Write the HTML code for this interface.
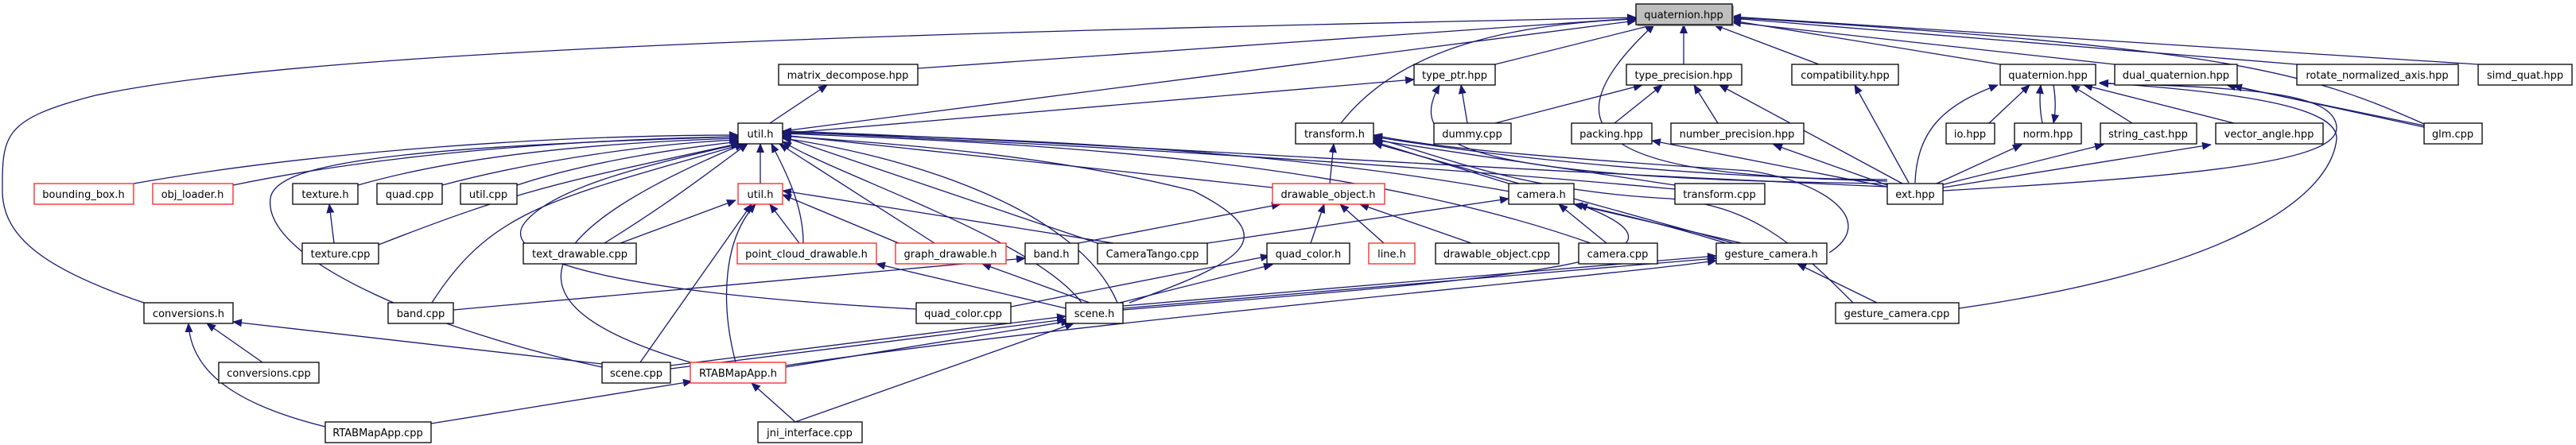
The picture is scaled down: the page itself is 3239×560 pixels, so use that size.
<!DOCTYPE html>
<html><head><meta charset="utf-8"><style>
html,body{margin:0;padding:0;background:#fff;width:3239px;height:560px;overflow:hidden}
svg{display:block}
text{font-family:"DejaVu Sans","Liberation Sans",sans-serif;font-size:13px;fill:#000;text-anchor:middle}
.e{fill:none;stroke:#191970;stroke-width:1.3}
.n{fill:#fff;stroke:#000;stroke-width:1.3}
.r{fill:#fff;stroke:#ff2020;stroke-width:1.3}
.s{fill:#999}
</style></head><body>
<svg width="3239" height="560" viewBox="0 0 3239 560" xmlns="http://www.w3.org/2000/svg">
<defs><marker id="a" markerUnits="userSpaceOnUse" markerWidth="12" markerHeight="10" refX="11" refY="5" orient="auto"><path d="M0,0 L12,5 L0,10 z" fill="#191970"/></marker></defs>
<g class="e" marker-end="url(#a)">
<path d="M181,381 C60,340 3,300 3,240 C3,170 3,150 120,120 C400,60 1200,40 2057,22"/>
<path d="M1154,86 L2057,23"/>
<path d="M984,165 L2057,26"/>
<path d="M1880,81 L2080,31"/>
<path d="M1686,155 C1760,60 1900,30 2057,24"/>
<path d="M2117,81 L2117,31"/>
<path d="M2373,226 C2020,225 1930,170 2080,31"/>
<path d="M2287,81 L2155,31"/>
<path d="M2515,81 L2178,26"/>
<path d="M2659,81 L2178,28"/>
<path d="M2888,81 L2178,23"/>
<path d="M3116,81 L2178,21"/>
<path d="M3048,156 C2900,90 2800,60 2178,22"/>
<path d="M984,168 L1778,100"/>
<path d="M968,155 L1040,107"/>
<path d="M1845,155 L1837,107"/>
<path d="M1880,155 L2065,107"/>
<path d="M2373,231 C1820,225 1770,180 1810,107"/>
<path d="M2030,155 L2090,107"/>
<path d="M2160,155 L2130,107"/>
<path d="M2392,231 L2162,107"/>
<path d="M2400,230 L2332,107"/>
<path d="M2408,230 C2410,160 2450,130 2512,107"/>
<path d="M2435,231 L2542,182"/>
<path d="M2440,233 L2645,182"/>
<path d="M2443,236 L2780,182"/>
<path d="M2443,240 C2800,220 2940,200 2938,160 C2935,120 2850,110 2640,105"/>
<path d="M2373,233 L2230,182"/>
<path d="M2373,235 L2077,177"/>
<path d="M2501,155 L2552,107"/>
<path d="M2568,155 C2565,140 2564,125 2566,107"/>
<path d="M2582,107 C2585,125 2585,140 2582,155"/>
<path d="M2681,155 L2604,107"/>
<path d="M2809,155 L2620,107"/>
<path d="M3048,158 L2800,107"/>
<path d="M3048,160 L2808,108"/>
<path d="M2463,388 C2800,340 2930,250 2938,175 C2940,140 2850,118 2640,104"/>
<path d="M168,231 C400,190 700,170 928,170"/>
<path d="M293,233 C500,190 750,175 928,172"/>
<path d="M450,233 C600,190 800,178 928,174"/>
<path d="M556,233 C680,200 830,180 928,176"/>
<path d="M650,233 C750,200 870,185 930,178"/>
<path d="M476,308 C650,240 700,230 932,180"/>
<path d="M757,462 C560,420 330,330 340,250 C345,205 500,185 928,172"/>
<path d="M543,381 C620,260 700,250 935,181"/>
<path d="M760,306 C850,250 900,210 940,181"/>
<path d="M956,231 L956,181"/>
<path d="M1010,306 C1010,260 990,220 970,181"/>
<path d="M1175,306 L980,181"/>
<path d="M868,456 C680,400 600,320 935,181"/>
<path d="M1360,381 C1300,300 1050,220 984,178"/>
<path d="M1152,389 C800,370 620,330 660,280 C700,230 850,200 930,181"/>
<path d="M1600,236 L984,170"/>
<path d="M1380,306 L984,172"/>
<path d="M2000,306 C1700,200 1300,180 984,168"/>
<path d="M2170,306 C1800,190 1300,175 984,167"/>
<path d="M2106,238 C1700,200 1200,175 984,166"/>
<path d="M2373,235 C1800,210 1300,175 984,165"/>
<path d="M1405,381 C1350,250 1100,190 984,174"/>
<path d="M780,306 L925,252"/>
<path d="M1005,306 L968,257"/>
<path d="M805,456 L945,257"/>
<path d="M925,456 C905,380 910,300 950,257"/>
<path d="M1130,306 L984,245"/>
<path d="M1400,306 L984,240"/>
<path d="M1672,231 L1677,181"/>
<path d="M1897,231 L1727,178"/>
<path d="M2106,233 L1727,176"/>
<path d="M2373,228 C2100,220 1900,200 1727,172"/>
<path d="M2180,306 L1727,180"/>
<path d="M2330,381 C2250,300 2200,260 2100,250 C1900,240 1800,190 1727,174"/>
<path d="M2300,318 C2360,280 2300,230 2200,215 C1900,195 1800,185 1727,170"/>
<path d="M1356,306 L1610,257"/>
<path d="M1648,306 L1665,257"/>
<path d="M1740,306 L1685,257"/>
<path d="M1850,306 L1710,257"/>
<path d="M1518,306 L1897,250"/>
<path d="M2020,306 L1960,257"/>
<path d="M2190,306 L1979,257"/>
<path d="M1412,390 C1900,350 2180,330 1985,257"/>
<path d="M1412,385 L2158,322"/>
<path d="M1412,388 L2158,325"/>
<path d="M2360,381 L2260,332"/>
<path d="M988,460 C1400,400 2000,350 2158,328"/>
<path d="M1340,388 L1102,332"/>
<path d="M1370,381 L1235,332"/>
<path d="M1408,381 L1600,333"/>
<path d="M1271,386 L1596,322"/>
<path d="M843,460 L1340,398"/>
<path d="M843,464 L1340,402"/>
<path d="M988,462 L1345,404"/>
<path d="M1000,531 L1350,407"/>
<path d="M1420,381 C1560,330 1620,300 1500,240 C1300,190 1100,180 984,171"/>
<path d="M330,456 L260,407"/>
<path d="M409,537 C300,510 240,470 237,407"/>
<path d="M757,458 L293,405"/>
<path d="M542,533 L870,480"/>
<path d="M1000,531 L945,482"/>
<path d="M420,306 L414,257"/>
<path d="M570,390 L1289,325"/>
</g>
<g>
<rect x="2059" y="7" width="121" height="26" class="s"/><rect x="2057" y="5" width="121" height="26" fill="#bfbfbf" stroke="#000" stroke-width="1.3"/><text x="2117" y="23">quaternion.hpp</text>
</g>
<g id="nodes">
<rect x="979" y="81" width="175" height="26" class="n"/><text x="1066" y="99">matrix_decompose.hpp</text>
<rect x="1778" y="81" width="102" height="26" class="n"/><text x="1829" y="99">type_ptr.hpp</text>
<rect x="2045" y="81" width="145" height="26" class="n"/><text x="2117" y="99">type_precision.hpp</text>
<rect x="2253" y="81" width="134" height="26" class="n"/><text x="2320" y="99">compatibility.hpp</text>
<rect x="2515" y="81" width="120" height="26" class="n"/><text x="2575" y="99">quaternion.hpp</text>
<rect x="2659" y="81" width="154" height="26" class="n"/><text x="2736" y="99">dual_quaternion.hpp</text>
<rect x="2888" y="81" width="203" height="26" class="n"/><text x="2989" y="99">rotate_normalized_axis.hpp</text>
<rect x="3116" y="81" width="118" height="26" class="n"/><text x="3175" y="99">simd_quat.hpp</text>
<rect x="928" y="155" width="56" height="26" class="n"/><text x="956" y="173">util.h</text>
<rect x="1629" y="155" width="98" height="26" class="n"/><text x="1678" y="173">transform.h</text>
<rect x="1803" y="155" width="97" height="26" class="n"/><text x="1851" y="173">dummy.cpp</text>
<rect x="1976" y="155" width="101" height="26" class="n"/><text x="2026" y="173">packing.hpp</text>
<rect x="2101" y="155" width="167" height="26" class="n"/><text x="2184" y="173">number_precision.hpp</text>
<rect x="2447" y="155" width="61" height="26" class="n"/><text x="2477" y="173">io.hpp</text>
<rect x="2533" y="155" width="84" height="26" class="n"/><text x="2575" y="173">norm.hpp</text>
<rect x="2641" y="155" width="121" height="26" class="n"/><text x="2701" y="173">string_cast.hpp</text>
<rect x="2786" y="155" width="135" height="26" class="n"/><text x="2853" y="173">vector_angle.hpp</text>
<rect x="3048" y="155" width="73" height="26" class="n"/><text x="3084" y="173">glm.cpp</text>
<rect x="43" y="231" width="125" height="26" class="r"/><text x="105" y="249">bounding_box.h</text>
<rect x="192" y="231" width="101" height="26" class="r"/><text x="242" y="249">obj_loader.h</text>
<rect x="368" y="231" width="82" height="26" class="n"/><text x="409" y="249">texture.h</text>
<rect x="474" y="231" width="82" height="26" class="n"/><text x="515" y="249">quad.cpp</text>
<rect x="579" y="231" width="71" height="26" class="n"/><text x="614" y="249">util.cpp</text>
<rect x="928" y="231" width="56" height="26" class="r"/><text x="956" y="249">util.h</text>
<rect x="1600" y="231" width="141" height="26" class="r"/><text x="1670" y="249">drawable_object.h</text>
<rect x="1897" y="231" width="82" height="26" class="n"/><text x="1938" y="249">camera.h</text>
<rect x="2106" y="231" width="113" height="26" class="n"/><text x="2162" y="249">transform.cpp</text>
<rect x="2373" y="231" width="70" height="26" class="n"/><text x="2408" y="249">ext.hpp</text>
<rect x="380" y="306" width="96" height="26" class="n"/><text x="428" y="324">texture.cpp</text>
<rect x="658" y="306" width="142" height="26" class="n"/><text x="729" y="324">text_drawable.cpp</text>
<rect x="927" y="306" width="175" height="26" class="r"/><text x="1014" y="324">point_cloud_drawable.h</text>
<rect x="1126" y="306" width="139" height="26" class="r"/><text x="1195" y="324">graph_drawable.h</text>
<rect x="1289" y="306" width="67" height="26" class="n"/><text x="1322" y="324">band.h</text>
<rect x="1380" y="306" width="138" height="26" class="n"/><text x="1449" y="324">CameraTango.cpp</text>
<rect x="1593" y="306" width="104" height="26" class="n"/><text x="1645" y="324">quad_color.h</text>
<rect x="1721" y="306" width="58" height="26" class="r"/><text x="1750" y="324">line.h</text>
<rect x="1805" y="306" width="155" height="26" class="n"/><text x="1882" y="324">drawable_object.cpp</text>
<rect x="1985" y="306" width="99" height="26" class="n"/><text x="2034" y="324">camera.cpp</text>
<rect x="2158" y="306" width="139" height="26" class="n"/><text x="2227" y="324">gesture_camera.h</text>
<rect x="181" y="381" width="112" height="26" class="n"/><text x="237" y="399">conversions.h</text>
<rect x="488" y="381" width="82" height="26" class="n"/><text x="529" y="399">band.cpp</text>
<rect x="1152" y="381" width="119" height="26" class="n"/><text x="1211" y="399">quad_color.cpp</text>
<rect x="1340" y="381" width="72" height="26" class="n"/><text x="1376" y="399">scene.h</text>
<rect x="2308" y="381" width="155" height="26" class="n"/><text x="2385" y="399">gesture_camera.cpp</text>
<rect x="275" y="456" width="126" height="26" class="n"/><text x="338" y="474">conversions.cpp</text>
<rect x="757" y="456" width="86" height="26" class="n"/><text x="800" y="474">scene.cpp</text>
<rect x="868" y="456" width="120" height="26" class="r"/><text x="928" y="474">RTABMapApp.h</text>
<rect x="409" y="531" width="133" height="26" class="n"/><text x="475" y="549">RTABMapApp.cpp</text>
<rect x="953" y="531" width="131" height="26" class="n"/><text x="1018" y="549">jni_interface.cpp</text>
</g>
</svg>
</body></html>
